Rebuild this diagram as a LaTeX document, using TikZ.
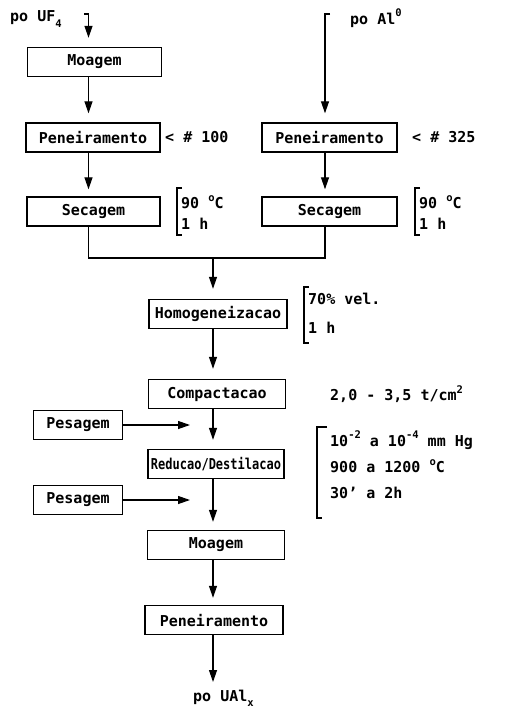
\documentclass[tikz,border=0pt]{standalone}
\usepackage{fontspec}
\setmainfont{DejaVu Sans Mono}
\usepackage{graphicx}
\usetikzlibrary{arrows.meta,calc}
\newcommand\supx[1]{\raisebox{0.5em}{\fontsize{10.5}{10.5}\selectfont #1}}
\newcommand\subx[1]{\raisebox{-0.35em}{\fontsize{10.5}{10.5}\selectfont #1}}
\begin{document}
\begin{tikzpicture}[x=1pt,y=-1pt,
  font=\fontsize{15}{17}\selectfont\bfseries,
  box/.style={draw, line width=1.4pt, minimum height=29pt, inner sep=0pt},
  arr/.style={line width=1.2pt, -{Triangle[length=12pt,width=8pt]}},
  ln/.style={line width=1.2pt},
  brk/.style={line width=1.3pt},
  lab/.style={anchor=west, inner sep=0pt}]
\useasboundingbox[fill=white] (0,0) rectangle (506,710);
% column lines
\coordinate (Lx) at (88.5,0);
\coordinate (Rx) at (325,0);
\coordinate (Mx) at (213,0);
\coordinate (Px) at (190,0);
% top inputs
\node[lab] (uf) at (10,19) {po UF\subx{4}};
\node[lab] (al) at (350,18) {po Al\supx{0}};
\coordinate (ufh) at (84,14);
\coordinate (ufc) at (88.5,14);
\coordinate (alh) at (330,14);
\coordinate (alc) at (325,14);
% left column
\node[box, minimum width=134pt] (m1) at (94.5,62) {Moagem};
\node[box, minimum width=134pt] (p1) at (93,137.5) {Peneiramento};
\node[lab] (t100) at (165,137) {< \# 100};
\node[box, minimum width=133pt] (s1) at (93.5,211.5) {Secagem};
\node[lab] (c1a) at (181,202) {90 \supx{o}C};
\node[lab] (c1b) at (181,224) {1 h};
% right column
\node[box, minimum width=135pt] (p2) at (329.5,137.5) {Peneiramento};
\node[lab] (t325) at (412,137) {< \# 325};
\node[box, minimum width=135pt] (s2) at (329.5,211.5) {Secagem};
\node[lab] (c2a) at (419,202) {90 \supx{o}C};
\node[lab] (c2b) at (419,224) {1 h};
% middle column
\coordinate (J) at (213,258);
\node[box, minimum width=138pt] (h) at (218,314) {Homogeneizacao};
\node[lab] (h1) at (308,299) {70\% vel.};
\node[lab] (h2) at (308,328) {1 h};
\node[box, minimum width=137pt] (c) at (217,394) {Compactacao};
\node[lab] (ct) at (330,394) {2,0 - 3,5 t/cm\supx{2}};
\node[box, minimum width=89pt] (w1) at (78,425) {Pesagem};
\node[box, minimum width=136pt] (r) at (216,464) {\scalebox{0.8}[1]{Reducao/Destilacao}};
\node[box, minimum width=89pt] (w2) at (78,500) {Pesagem};
\node[lab] (r1) at (330,440) {10\supx{-2} a 10\supx{-4} mm Hg};
\node[lab] (r2) at (330,466) {900 a 1200 \supx{o}C};
\node[lab] (r3) at (330,493) {30{\char"0027} a 2h};
\node[box, minimum width=137pt] (m2) at (216,545) {Moagem};
\node[box, minimum width=138pt] (p3) at (214,620) {Peneiramento};
\node[lab] (ual) at (193,698) {po UAl\subx{x}};
\coordinate (ue) at (213,682);
% connectors
\draw[arr, shorten >=9pt] (ufh) -- (ufc) -- (ufc |- m1.north);
\draw[arr, shorten >=9pt] (m1.south -| Lx) -- (p1.north -| Lx);
\draw[arr, shorten >=7pt] (p1.south -| Lx) -- (s1.north -| Lx);
\draw[arr, shorten >=9pt] (alh) -- (alc) -- (alc |- p2.north);
\draw[arr, shorten >=7pt] (p2.south -| Rx) -- (s2.north -| Rx);
\draw[ln] (s1.south -| Lx) -- (Lx |- J) -- (Rx |- J) -- (s2.south -| Rx);
\draw[arr, shorten >=10pt] (J) -- (h.north -| Mx);
\draw[arr, shorten >=10pt] (h.south -| Mx) -- (c.north -| Mx);
\draw[arr, shorten >=9pt] (c.south -| Mx) -- (r.north -| Mx);
\draw[arr, shorten >=8pt] (r.south -| Mx) -- (m2.north -| Mx);
\draw[arr, shorten >=7pt] (m2.south -| Mx) -- (p3.north -| Mx);
\draw[arr] (p3.south -| Mx) -- (ue);
\draw[arr] (w1.east) -- (w1.east -| Px);
\draw[arr] (w2.east) -- (w2.east -| Px);
% brackets
\coordinate (b1t) at (177,188); \coordinate (b1b) at (177,235);
\coordinate (b2t) at (415,188); \coordinate (b2b) at (415,235);
\coordinate (b3t) at (304,287); \coordinate (b3b) at (304,343);
\coordinate (b4t) at (317,427); \coordinate (b4b) at (317,518);
\draw[brk] ($(b1t)+(5,0)$) -- (b1t) -- (b1b) -- ($(b1b)+(5,0)$);
\draw[brk] ($(b2t)+(5,0)$) -- (b2t) -- (b2b) -- ($(b2b)+(5,0)$);
\draw[brk] ($(b3t)+(5,0)$) -- (b3t) -- (b3b) -- ($(b3b)+(5,0)$);
\draw[brk] ($(b4t)+(10,0)$) -- (b4t) -- (b4b) -- ($(b4b)+(5,0)$);
\end{tikzpicture}
\end{document}
